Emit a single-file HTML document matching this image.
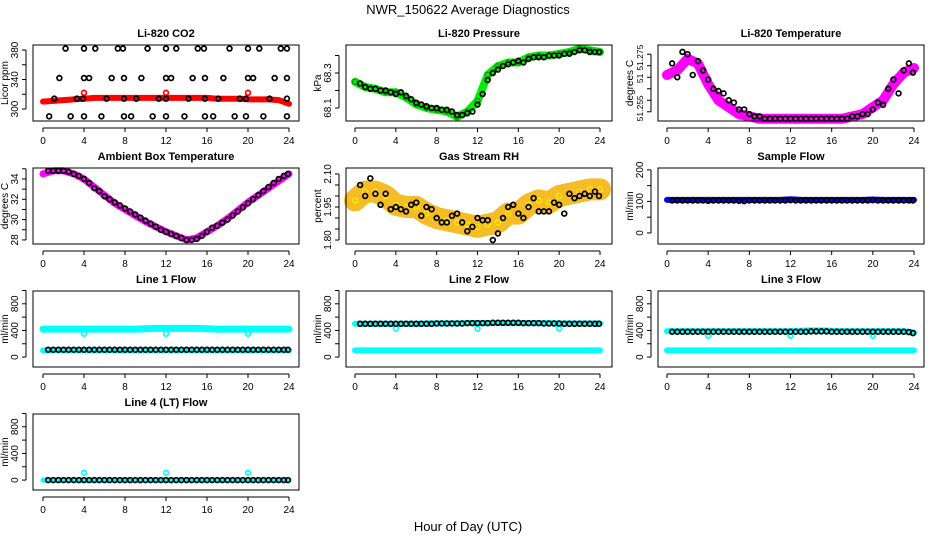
<!DOCTYPE html>
<html><head><meta charset="utf-8"><style>
body{margin:0;background:#fff;}
svg{display:block;font-family:"Liberation Sans",sans-serif;}
</style></head><body>
<svg id="chart" width="936" height="540" viewBox="0 0 936 540">
<text x="468" y="14" text-anchor="middle" font-size="13">NWR_150622  Average Diagnostics</text>
<text x="468" y="531" text-anchor="middle" font-size="13">Hour of Day (UTC)</text>
</svg>
<script>
const HOURS = [0,1,2,3,4,5,6,7,8,9,10,11,12,13,14,15,16,17,18,19,20,21,22,23,24];
const BHOURS = [0.5,1,1.5,2,2.5,3,3.5,4,4.5,5,5.5,6,6.5,7,7.5,8,8.5,9,9.5,10,10.5,11,11.5,12,12.5,13,13.5,14,14.5,15,15.5,16,16.5,17,17.5,18,18.5,19,19.5,20,20.5,21,21.5,22,22.5,23,23.5,23.9];
const X_TICKS = [0,4,8,12,16,20,24];

const co2Red = [310,311,312,313,314,315,315,315,315,315,315,315,315,315,315,315,315,314,314,314,313,313,313,312,307];
const co2OutX = [4,12,20];
const co2OutY = [322,322,322];
const co2BlackX = [2.2,4,5.1,7.3,7.8,10.2,12,13,15.1,15.7,18.2,20,21.1,23.2,23.8,1.6,4,4.5,6.7,7.9,9.6,12,12.5,14.6,15.8,17.6,20,20.5,22.6,23.8,1.1,3.3,3.9,6.2,7.9,9.1,11.3,12,14.2,15.8,17.1,19.2,19.8,22.1,23.8,0.6,2.7,4,5.7,7.9,8.6,10.7,12,13.8,15.8,16.6,18.7,19.8,21.5,23.8];
const co2BlackY = [382,382,382,382,382,382,382,382,382,382,382,382,382,382,382,342,342,342,342,342,342,342,342,342,342,342,342,342,342,342,314,314,314,314,314,314,314,314,314,314,314,314,314,314,314,290,290,290,290,290,290,290,290,290,290,290,290,290,290,290];

const presGreen = [68.25,68.22,68.21,68.19,68.19,68.16,68.12,68.10,68.09,68.08,68.05,68.08,68.14,68.29,68.34,68.36,68.36,68.39,68.40,68.40,68.41,68.42,68.44,68.43,68.42];
const presBlack = [68.24,68.22,68.21,68.21,68.20,68.20,68.19,68.18,68.19,68.17,68.15,68.13,68.12,68.11,68.10,68.10,68.09,68.09,68.08,68.06,68.06,68.07,68.08,68.12,68.18,68.26,68.30,68.32,68.34,68.35,68.36,68.37,68.36,68.38,68.39,68.39,68.39,68.40,68.40,68.40,68.41,68.41,68.42,68.43,68.43,68.42,68.42,68.42];

const tempMag = [51.271,51.273,51.278,51.276,51.267,51.260,51.257,51.254,51.253,51.252,51.252,51.252,51.252,51.252,51.252,51.252,51.252,51.252,51.253,51.254,51.257,51.260,51.267,51.272,51.274];
const tempBlack = [51.276,51.270,51.281,51.280,51.271,51.277,51.273,51.269,51.265,51.264,51.263,51.260,51.259,51.256,51.256,51.254,51.253,51.253,51.252,51.252,51.252,51.252,51.252,51.252,51.252,51.252,51.252,51.252,51.252,51.252,51.252,51.252,51.252,51.252,51.252,51.253,51.253,51.254,51.254,51.256,51.259,51.258,51.265,51.269,51.263,51.273,51.276,51.272];

const ambMag = [34.5,34.8,34.8,34.5,34.0,33.2,32.4,31.6,31.0,30.4,29.8,29.3,28.8,28.4,28.0,28.2,28.8,29.4,30.1,30.9,31.7,32.4,33.1,33.8,34.5];
const ambBlack = [34.8,34.8,34.8,34.8,34.7,34.5,34.3,34.0,33.6,33.1,32.8,32.3,32.0,31.7,31.4,31.1,30.8,30.5,30.2,29.9,29.6,29.3,29.0,28.8,28.6,28.4,28.2,28.0,28.0,28.1,28.4,28.8,29.2,29.4,29.7,30.0,30.4,30.8,31.2,31.6,32.0,32.4,32.8,33.2,33.6,34.0,34.3,34.5];

const rhCloud = [1.98,2.02,2.02,2.00,1.96,1.95,1.95,1.92,1.90,1.89,1.88,1.87,1.86,1.87,1.88,1.92,1.92,1.96,1.98,1.97,2.00,2.01,2.02,2.03,2.03];
const rhBlack = [2.05,2.00,2.08,2.01,1.96,2.01,1.94,1.95,1.94,1.93,1.96,1.97,1.91,1.95,1.94,1.90,1.88,1.88,1.91,1.92,1.88,1.84,1.86,1.90,1.89,1.89,1.80,1.83,1.90,1.95,1.96,1.92,1.90,1.95,1.99,1.93,1.93,1.93,1.97,1.96,1.92,2.01,1.99,2.00,2.01,2.00,2.02,2.00];

const sampleBlue = [105,105,105,105,105,105,105,105,105,105,105,105,107,105,105,105,105,105,105,105,106,105,105,105,105];
const sampleBlack = [103,103,103,103,103,103,103,102,103,103,103,103,103,102,101,103,103,103,103,103,103,103,103,104,103,103,103,103,103,103,103,103,103,103,103,103,103,103,103,104,103,103,103,103,103,103,103,103];

const l1Upper = [420,420,420,420,420,420,420,420,420,420,425,430,430,430,430,430,425,420,420,420,420,420,420,420,420];
const l1Lower = [100,100,100,100,100,100,100,100,100,100,100,100,100,100,100,100,100,100,100,100,100,100,100,100,100];
const l1Black = [110,110,110,110,110,110,110,110,110,110,110,110,110,110,110,110,110,110,110,110,110,110,110,110,110,110,110,110,110,110,110,110,110,110,110,110,110,110,110,110,110,110,110,110,110,110,110,110];
const l1OutX = [4,12,20];
const l1OutY = [350,350,350];

const l2Upper = [500,500,500,500,500,500,500,505,505,505,505,510,510,510,510,510,510,510,510,510,505,505,505,505,505];
const l2Lower = [100,100,100,100,100,100,100,100,100,100,100,100,100,100,100,100,100,100,100,100,100,100,100,100,100];
const l2Black = [500,500,500,500,500,500,500,500,500,500,500,500,500,500,500,505,505,505,505,505,505,510,510,510,510,510,515,515,515,515,515,515,510,510,510,510,505,505,505,505,500,500,500,500,500,500,500,500];
const l2OutX = [4,12,20];
const l2OutY = [430,430,430];

const l3Upper = [390,390,390,390,390,390,390,390,390,390,390,390,390,395,400,400,395,390,390,390,390,390,390,390,370];
const l3Lower = [100,100,100,100,100,100,100,100,100,100,100,100,100,100,100,100,100,100,100,100,100,100,100,100,100];
const l3Black = [380,380,380,380,380,380,380,380,380,380,380,380,380,380,380,380,380,380,380,380,380,380,380,380,380,380,380,385,385,385,385,380,380,380,380,380,380,380,380,380,380,380,380,380,380,380,375,360];
const l3OutX = [4,12,20];
const l3OutY = [320,320,320];

const l4Cyan = [0,0,0,0,0,0,0,0,0,0,0,0,0,0,0,0,0,0,0,0,0,0,0,0,0];
const l4Black = [0,0,0,0,0,0,0,0,0,0,0,0,0,0,0,0,0,0,0,0,0,0,0,0,0,0,0,0,0,0,0,0,0,0,0,0,0,0,0,0,0,0,0,0,0,0,0,0];
const l4OutX = [4,12,20];
const l4OutY = [110,110,110];

const NS = "http://www.w3.org/2000/svg";
const svg = document.getElementById('chart');
const COLS = [{bx0:33,bx1:299,t0:43,t1:289},{bx0:346,bx1:612,t0:355,t1:600},{bx0:658,bx1:924,t0:667,t1:914}];
const ROWS = [45,168,291,414];
const BH = 76;

function mk(tag, attrs, parent){
  const e = document.createElementNS(NS, tag);
  for (const k in attrs) e.setAttribute(k, attrs[k]);
  (parent||svg).appendChild(e);
  return e;
}

function panel(o){
  const c = COLS[o.col], top = ROWS[o.row], bot = top + BH;
  const g = mk('g', {});
  
  
  const xs = v => c.t0 + (v/24)*(c.t1-c.t0);
  const ys = v => bot - (v-o.ymin)/(o.ymax-o.ymin)*BH;
  const sg = mk('g', {}, g);
  
  
  (o.bands||[]).forEach(b => {
    const pts = b.y.map((v,i)=> xs(b.x[i]).toFixed(1)+','+ys(v).toFixed(1)).join(' ');
    const pl = mk('polyline', {points:pts, fill:'none', stroke:b.color, 'stroke-width':b.w, 'stroke-linecap':'round', 'stroke-linejoin':'round', opacity:b.op||1}, sg);
    
    
    if (b.dots) {
      b.y.forEach((v,i)=>{
        const d = mk('circle', {cx:xs(b.x[i]), cy:ys(v), r:2.5, fill:'none', stroke:b.dots, 'stroke-width':1.2}, sg);
        
        
      });
    }
  });
  (o.points||[]).forEach(p => {
    p.y.forEach((v,i)=>{
      const d = mk('circle', {cx:xs(p.x[i]), cy:ys(v), r:2.4, fill:'none', stroke:p.color, 'stroke-width':1.7}, sg);
      
      
    });
  });
  const box = mk('rect', {x:c.bx0, y:top, width:c.bx1-c.bx0, height:BH, fill:'none', stroke:'#000', 'stroke-width':1}, g);
  
  
  const xa = mk('g', {}, g);
  
  
  const ay = bot + 7;
  mk('line', {x1:xs(0), x2:xs(24), y1:ay, y2:ay, stroke:'#000'}, xa);
  X_TICKS.forEach(t=>{
    mk('line', {x1:xs(t), x2:xs(t), y1:ay, y2:ay+4, stroke:'#000'}, xa);
    const tx = mk('text', {x:xs(t), y:ay+16, 'text-anchor':'middle', 'font-size':10}, xa);
    tx.textContent = t;
  });
  const ya = mk('g', {}, g);
  
  
  const ax = c.bx0 - 7;
  mk('line', {x1:ax, x2:ax, y1:ys(o.ticks[0]), y2:ys(o.ticks[o.ticks.length-1]), stroke:'#000'}, ya);
  o.ticks.forEach(t=> mk('line', {x1:ax-4, x2:ax, y1:ys(t), y2:ys(t), stroke:'#000'}, ya));
  const lfs = o.lfs || 10;
  o.labels.forEach((t,i)=>{
    const yy = ys(o.labelVals[i]);
    const tx = mk('text', {x:ax-8, y:yy, 'text-anchor':'middle', 'font-size':lfs, transform:`rotate(-90 ${ax-8} ${yy})`}, ya);
    tx.textContent = t;
  });
  const yt = mk('text', {x:c.bx0-25, y:top+BH/2, 'text-anchor':'middle', 'font-size':10, transform:`rotate(-90 ${c.bx0-25} ${top+BH/2})`}, ya);
  
  
  yt.textContent = o.ylab;
  const tt = mk('text', {x:(c.bx0+c.bx1)/2, y:top-8, 'text-anchor':'middle', 'font-size':11, 'font-weight':'bold'}, g);
  
  
  tt.textContent = o.title;
}

const FLOW_T = [0,200,400,600,800,1000];
const FLOW_LV = [0,400,800];
const FLOW_L = ['0','400','800'];
const CY = '#00ffff';

panel({name:'co2', col:0,row:0,title:'Li-820 CO2',ylab:'Licor ppm',ymin:283.7,ymax:386.8,
  ticks:[300,320,340,360,380],labelVals:[300,340,380],labels:['300','340','380'],
  bands:[{x:HOURS,y:co2Red,color:'#ff0000',w:6}],
  points:[{x:co2OutX,y:co2OutY,color:'#ff0000'},{x:co2BlackX,y:co2BlackY,color:'#000'}]});
panel({name:'pressure', col:1,row:0,title:'Li-820 Pressure',ylab:'kPa',ymin:68.026,ymax:68.46,
  ticks:[68.1,68.2,68.3,68.4],labelVals:[68.1,68.3],labels:['68.1','68.3'],
  bands:[{x:HOURS,y:presGreen,color:'#00ee00',w:8,dots:'#009900'}],
  points:[{x:BHOURS,y:presBlack,color:'#000'}]});
panel({name:'temperature', col:2,row:0,title:'Li-820 Temperature',ylab:'degrees C',ymin:51.251,ymax:51.284,lfs:8.5,
  ticks:[51.255,51.26,51.265,51.27,51.275,51.28],labelVals:[51.2565,51.2695,51.2785],labels:['51.255','51','51.275'],
  bands:[{x:HOURS,y:tempMag,color:'#ff00ff',w:10}],
  points:[{x:BHOURS,y:tempBlack,color:'#000'}]});
panel({name:'ambient-temp', col:0,row:1,title:'Ambient Box Temperature',ylab:'degrees C',ymin:27.6,ymax:35.08,
  ticks:[28,29,30,31,32,33,34,35],labelVals:[28,30,32,34],labels:['28','30','32','34'],
  bands:[{x:HOURS,y:ambMag,color:'#ff00ff',w:7}],
  points:[{x:BHOURS,y:ambBlack,color:'#000'}]});
panel({name:'gas-rh', col:1,row:1,title:'Gas Stream RH',ylab:'percent',ymin:1.782,ymax:2.127,
  ticks:[1.80,1.85,1.90,1.95,2.00,2.05,2.10],labelVals:[1.80,1.95,2.10],labels:['1.80','1.95','2.10'],
  bands:[{x:HOURS,y:rhCloud,color:'#f5b000',w:22,op:0.85,dots:'#ffee00'}],
  points:[{x:BHOURS,y:rhBlack,color:'#000'}]});
panel({name:'sample-flow', col:2,row:1,title:'Sample Flow',ylab:'ml/min',ymin:-35,ymax:206,
  ticks:[0,50,100,150,200],labelVals:[0,100,200],labels:['0','100','200'],
  bands:[{x:HOURS,y:sampleBlue,color:'#0000ff',w:6}],
  points:[{x:BHOURS,y:sampleBlack,color:'#000'}]});
panel({name:'line1-flow', col:0,row:2,title:'Line 1 Flow',ylab:'ml/min',ymin:-149,ymax:992,
  ticks:FLOW_T,labelVals:FLOW_LV,labels:FLOW_L,
  bands:[{x:HOURS,y:l1Upper,color:CY,w:7},{x:HOURS,y:l1Lower,color:CY,w:6}],
  points:[{x:l1OutX,y:l1OutY,color:CY},{x:BHOURS,y:l1Black,color:'#000'}]});
panel({name:'line2-flow', col:1,row:2,title:'Line 2 Flow',ylab:'ml/min',ymin:-149,ymax:992,
  ticks:FLOW_T,labelVals:FLOW_LV,labels:FLOW_L,
  bands:[{x:HOURS,y:l2Upper,color:CY,w:6},{x:HOURS,y:l2Lower,color:CY,w:6}],
  points:[{x:l2OutX,y:l2OutY,color:CY},{x:BHOURS,y:l2Black,color:'#000'}]});
panel({name:'line3-flow', col:2,row:2,title:'Line 3 Flow',ylab:'ml/min',ymin:-149,ymax:992,
  ticks:FLOW_T,labelVals:FLOW_LV,labels:FLOW_L,
  bands:[{x:HOURS,y:l3Upper,color:CY,w:6},{x:HOURS,y:l3Lower,color:CY,w:6}],
  points:[{x:l3OutX,y:l3OutY,color:CY},{x:BHOURS,y:l3Black,color:'#000'}]});
panel({name:'line4-flow', col:0,row:3,title:'Line 4 (LT) Flow',ylab:'ml/min',ymin:-149,ymax:992,
  ticks:FLOW_T,labelVals:FLOW_LV,labels:FLOW_L,
  bands:[{x:HOURS,y:l4Cyan,color:CY,w:5}],
  points:[{x:l4OutX,y:l4OutY,color:CY},{x:BHOURS,y:l4Black,color:'#000'}]});
</script>
</body></html>
